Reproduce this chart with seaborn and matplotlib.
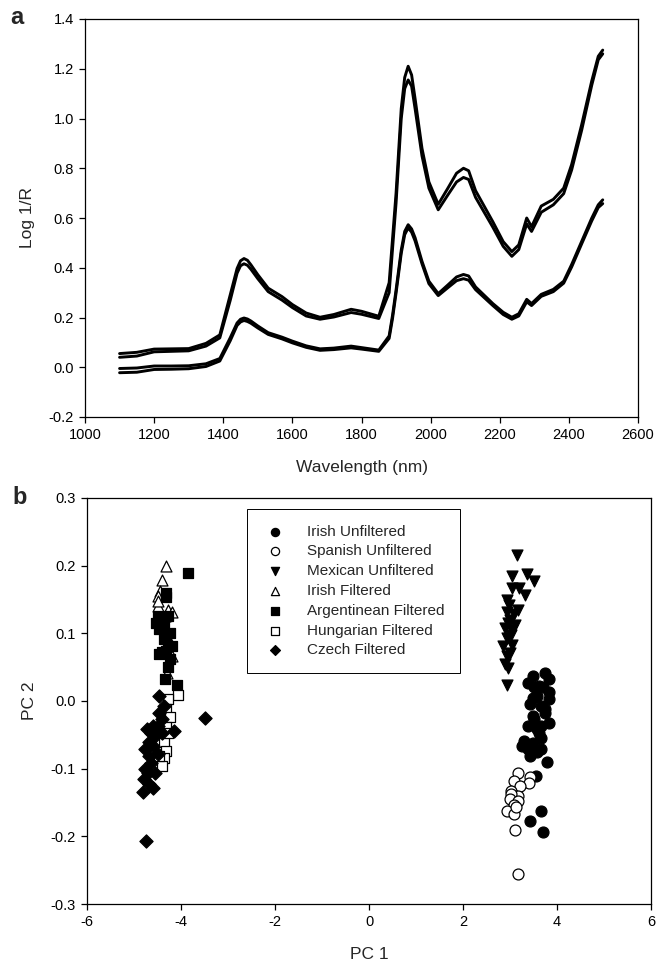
import numpy as np
import pandas as pd
import matplotlib
matplotlib.use("Agg")
import matplotlib.pyplot as plt
import seaborn as sns
from matplotlib.ticker import FormatStrFormatter, MultipleLocator

# ---------------- data: panel a (NIR spectra) ----------------
wavelength = [1100, 1150, 1200, 1250, 1300, 1350, 1390, 1420, 1440, 1450, 1460, 1470, 1480, 1500,
              1530, 1570, 1600, 1640, 1680, 1720, 1770, 1800, 1850, 1880, 1890, 1900,
              1915, 1925, 1935, 1945, 1955, 1975, 1995, 2022, 2050, 2075, 2095, 2110, 2130, 2180,
              2210, 2235, 2255, 2278, 2292, 2320, 2355, 2385, 2408, 2437, 2466, 2485, 2498]

upper_top = [0.055, 0.060, 0.073, 0.074, 0.075, 0.096, 0.130, 0.290, 0.397, 0.428, 0.437, 0.430, 0.412, 0.372,
             0.318, 0.284, 0.252, 0.218, 0.201, 0.212, 0.233, 0.225, 0.205, 0.340, 0.520, 0.700,
             1.040, 1.165, 1.210, 1.175, 1.080, 0.880, 0.745, 0.655, 0.720, 0.780, 0.800, 0.790, 0.710, 0.585,
             0.505, 0.465, 0.492, 0.600, 0.565, 0.648, 0.675, 0.720, 0.815, 0.975, 1.150, 1.250, 1.275]

upper_bottom = [0.040, 0.045, 0.062, 0.064, 0.066, 0.085, 0.118, 0.268, 0.378, 0.408, 0.416, 0.410, 0.394, 0.356,
                0.304, 0.270, 0.240, 0.206, 0.193, 0.202, 0.220, 0.213, 0.196, 0.300, 0.480, 0.660,
                1.000, 1.120, 1.155, 1.130, 1.040, 0.850, 0.720, 0.633, 0.693, 0.745, 0.763, 0.755, 0.683, 0.563,
                0.486, 0.446, 0.473, 0.576, 0.546, 0.623, 0.653, 0.698, 0.793, 0.953, 1.133, 1.236, 1.260]

lower_top = [-0.005, -0.003, 0.005, 0.005, 0.006, 0.014, 0.035, 0.118, 0.178, 0.193, 0.198, 0.194, 0.186, 0.166,
             0.139, 0.121, 0.105, 0.086, 0.074, 0.077, 0.085, 0.079, 0.069, 0.126, 0.211, 0.311,
             0.471, 0.546, 0.573, 0.556, 0.521, 0.426, 0.346, 0.296, 0.331, 0.363, 0.373, 0.367, 0.323, 0.256,
             0.221, 0.201, 0.215, 0.273, 0.256, 0.293, 0.313, 0.346, 0.413, 0.506, 0.599, 0.653, 0.673]

lower_bottom = [-0.022, -0.020, -0.009, -0.008, -0.006, 0.003, 0.025, 0.106, 0.168, 0.182, 0.188, 0.184, 0.177, 0.158,
                0.132, 0.114, 0.098, 0.080, 0.068, 0.071, 0.078, 0.073, 0.064, 0.116, 0.198, 0.298,
                0.458, 0.533, 0.560, 0.543, 0.508, 0.416, 0.336, 0.288, 0.320, 0.348, 0.356, 0.350, 0.312, 0.248,
                0.212, 0.193, 0.206, 0.263, 0.248, 0.285, 0.304, 0.338, 0.403, 0.496, 0.588, 0.642, 0.658]

# ---------------- data: panel b (PCA scores) ----------------
irish_unf_pc1 = [3.74, 3.48, 3.83, 3.39, 3.61, 3.83, 3.57, 3.83, 3.48, 3.66, 3.74, 3.48, 3.83, 3.39,
                 3.57, 3.30, 3.48, 3.66, 3.39, 3.57, 3.43, 3.25, 3.66, 3.74, 3.52, 3.61, 3.70, 3.52,
                 3.43, 3.66, 3.55, 3.65, 3.43, 3.70, 3.79]
irish_unf_pc2 = [0.042, 0.037, 0.032, 0.027, 0.022, 0.013, 0.008, 0.003, 0.005, -0.007, -0.017, -0.022,
                 -0.032, -0.037, -0.042, -0.059, -0.062, -0.054, -0.071, -0.076, -0.081, -0.066, -0.037,
                 -0.012, -0.027, -0.047, 0.020, 0.020, -0.005, -0.071, -0.111, -0.163, -0.177, -0.193, -0.090]

spanish_pc1 = [3.17, 3.43, 3.41, 3.08, 3.21, 3.03, 3.17, 3.03, 2.99, 3.17, 3.08, 2.94, 3.08, 3.12, 3.10, 3.17]
spanish_pc2 = [-0.107, -0.112, -0.121, -0.118, -0.125, -0.133, -0.140, -0.138, -0.145, -0.148, -0.153,
               -0.162, -0.167, -0.157, -0.190, -0.256]

mexican_pc1 = [3.14, 3.04, 3.36, 3.50, 3.04, 3.20, 3.32, 2.93, 3.18, 2.93, 3.00, 2.89, 3.04, 2.93,
               3.04, 2.86, 2.93, 3.00, 2.89, 2.96, 2.93, 2.98, 3.08, 2.95, 3.10, 3.02]
mexican_pc2 = [0.216, 0.184, 0.187, 0.177, 0.167, 0.167, 0.157, 0.150, 0.135, 0.132, 0.120, 0.108,
               0.105, 0.093, 0.083, 0.081, 0.066, 0.071, 0.054, 0.049, 0.024, 0.142, 0.128, 0.115,
               0.112, 0.098]

irish_fil_pc1 = [-4.32, -4.41, -4.45, -4.48, -4.48, -4.27, -4.20, -4.48, -4.34, -4.20, -4.30, -4.38, -4.25]
irish_fil_pc2 = [0.199, 0.179, 0.162, 0.155, 0.140, 0.135, 0.132, 0.148, 0.125, 0.066, 0.041, 0.110, 0.090]

argentinean_pc1 = [-3.86, -4.31, -4.32, -4.53, -4.46, -4.32, -4.28, -4.41, -4.23, -4.28, -4.35, -4.08,
                   -4.37, -4.50, -4.23, -4.32, -4.46, -4.19, -4.37, -4.28]
argentinean_pc2 = [0.189, 0.160, 0.153, 0.116, 0.106, 0.096, 0.082, 0.072, 0.062, 0.050, 0.032, 0.023,
                   0.091, 0.126, 0.101, 0.074, 0.069, 0.082, 0.111, 0.126]

hungarian_pc1 = [-4.06, -4.28, -4.32, -4.23, -4.32, -4.37, -4.32, -4.37, -4.41, -4.46, -4.28]
hungarian_pc2 = [0.009, 0.003, -0.012, -0.024, -0.039, -0.061, -0.074, -0.084, -0.096, -0.081, -0.047]

czech_pc1 = [-4.47, -3.50, -4.14, -4.74, -4.80, -4.59, -4.79, -4.71, -4.68, -4.72, -4.64, -4.55, -4.68,
             -4.59, -4.77, -4.50, -4.41, -4.46, -4.37, -4.64, -4.77, -4.55, -4.68, -4.50, -4.41, -4.59]
czech_pc2 = [0.008, -0.025, -0.044, -0.207, -0.134, -0.128, -0.116, -0.106, -0.081, -0.042, -0.047,
             -0.052, -0.061, -0.066, -0.071, -0.037, -0.027, -0.017, -0.007, -0.091, -0.101, -0.106,
             -0.123, -0.079, -0.047, -0.037]

# ---------------- style ----------------
sns.set_style("ticks")
plt.rcParams["font.family"] = ["Liberation Sans", "DejaVu Sans"]
plt.rcParams["axes.unicode_minus"] = False

fig = plt.figure(figsize=(6.56, 9.67), dpi=100)
ax1 = fig.add_axes([85 / 656, 1 - 417 / 967, 553 / 656, 398 / 967])
ax2 = fig.add_axes([87 / 656, 1 - 904 / 967, 564 / 656, 406 / 967])

# ---------------- panel a ----------------
spectra = {"upper_top": upper_top, "upper_bottom": upper_bottom,
           "lower_top": lower_top, "lower_bottom": lower_bottom}
frames = []
for name, vals in spectra.items():
    frames.append(pd.DataFrame({"wavelength": wavelength, "log1r": vals, "spectrum": name}))
spec_df = pd.concat(frames, ignore_index=True)

sns.lineplot(data=spec_df, x="wavelength", y="log1r", units="spectrum", estimator=None,
             color="black", linewidth=2.1, ax=ax1, legend=False)

ax1.set_xlim(1000, 2600)
ax1.set_ylim(-0.2, 1.4)
ax1.xaxis.set_major_locator(MultipleLocator(200))
ax1.yaxis.set_major_locator(MultipleLocator(0.2))
ax1.yaxis.set_major_formatter(FormatStrFormatter("%.1f"))
ax1.set_xlabel("Wavelength (nm)", fontsize=12.5, labelpad=13)
ax1.set_ylabel("Log 1/R", fontsize=12.5, labelpad=10)

# ---------------- panel b ----------------
groups = [
    ("Irish Unfiltered", irish_unf_pc1, irish_unf_pc2, "o", "black", 62),
    ("Spanish Unfiltered", spanish_pc1, spanish_pc2, "o", "white", 62),
    ("Mexican Unfiltered", mexican_pc1, mexican_pc2, "v", "black", 62),
    ("Irish Filtered", irish_fil_pc1, irish_fil_pc2, "^", "white", 62),
    ("Argentinean Filtered", argentinean_pc1, argentinean_pc2, "s", "black", 50),
    ("Hungarian Filtered", hungarian_pc1, hungarian_pc2, "s", "white", 50),
    ("Czech Filtered", czech_pc1, czech_pc2, "D", "black", 45),
]
for label, xs, ys, mk, fc, sz in groups:
    sns.scatterplot(x=xs, y=ys, marker=mk, s=sz, color=fc, edgecolor="black",
                    linewidth=0.9, label=label, ax=ax2)

ax2.set_xlim(-6, 6)
ax2.set_ylim(-0.3, 0.3)
ax2.xaxis.set_major_locator(MultipleLocator(2))
ax2.yaxis.set_major_locator(MultipleLocator(0.1))
ax2.yaxis.set_major_formatter(FormatStrFormatter("%.1f"))
ax2.set_xlabel("PC 1", fontsize=12.5, labelpad=13)
ax2.set_ylabel("PC 2", fontsize=12.5, labelpad=10)

leg = ax2.legend(loc="upper left", bbox_to_anchor=(0.284, 0.972), fontsize=11,
                 frameon=True, fancybox=False, edgecolor="black", framealpha=1,
                 labelspacing=0.38, handletextpad=1.2, borderpad=1.0, borderaxespad=0,
                 markerscale=0.75, handlelength=1.7)
leg.get_frame().set_linewidth(0.7)

for ax in (ax1, ax2):
    for sp in ax.spines.values():
        sp.set_visible(True)
        sp.set_linewidth(0.9)
        sp.set_color("black")
    ax.tick_params(axis="both", which="major", direction="out", length=4, width=0.9,
                   labelsize=10.5, colors="black", top=False, right=False, pad=4)
    ax.grid(False)

fig.text(10 / 656, 1 - 18 / 967, "a", fontsize=17, fontweight="bold", va="center", ha="left")
fig.text(12 / 656, 1 - 498 / 967, "b", fontsize=17, fontweight="bold", va="center", ha="left")

fig.savefig("out.png", dpi=100, facecolor="white")
